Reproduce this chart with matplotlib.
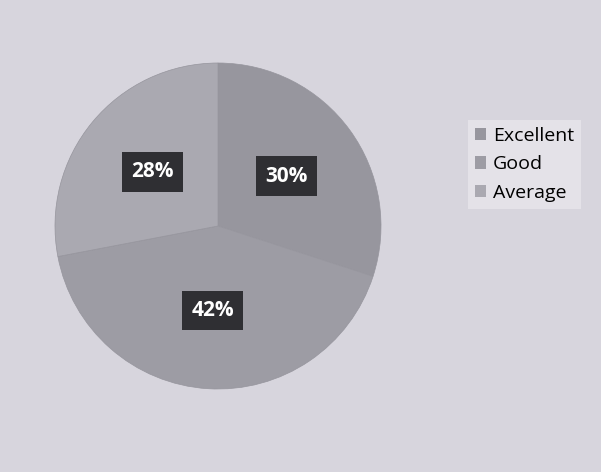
import matplotlib
matplotlib.use("Agg")
import matplotlib.pyplot as plt

categories = ["Excellent", "Good", "Average"]
values = [30, 42, 28]
colors = ["#97969e", "#9d9ca4", "#aaa9b1"]

W, H = 601, 472
fig = plt.figure(figsize=(W / 100, H / 100), dpi=100)
fig.patch.set_facecolor("#d7d5dd")

cx, cy, r = 218, 226, 163
ax = fig.add_axes([(cx - r) / W, (H - cy - r) / H, 2 * r / W, 2 * r / H])
ax.set_facecolor("none")

wedges, texts, autotexts = ax.pie(
    values, colors=colors, startangle=90, counterclock=False,
    autopct=lambda p: f"{p:.0f}%", pctdistance=0.52,
    wedgeprops=dict(linewidth=0.5, edgecolor="#96959d"),
)
for t in autotexts:
    t.set_color("white")
    t.set_fontsize(15)
    t.set_fontweight("bold")
    t.set_family(["Open Sans", "DejaVu Sans"])
    t.set_bbox(dict(boxstyle="square,pad=0.45", facecolor="#2f2f33", edgecolor="none"))
ax.set_xlim(-1, 1)
ax.set_ylim(-1, 1)
ax.set_aspect("equal")
ax.axis("off")

leg = fig.legend(
    wedges, categories, loc="upper left",
    bbox_to_anchor=(458 / W, 1 - 110 / H),
    prop=dict(family=["Open Sans", "DejaVu Sans"], size=14),
    frameon=True, fancybox=False, framealpha=1,
    facecolor="#e4e2e8", edgecolor="none",
    handlelength=0.6, handleheight=0.6, handletextpad=0.35,
    labelspacing=0.55, borderpad=0.35,
)
for h in leg.legend_handles:
    h.set_linewidth(0)

fig.savefig("out.png", dpi=100, facecolor=fig.get_facecolor())
